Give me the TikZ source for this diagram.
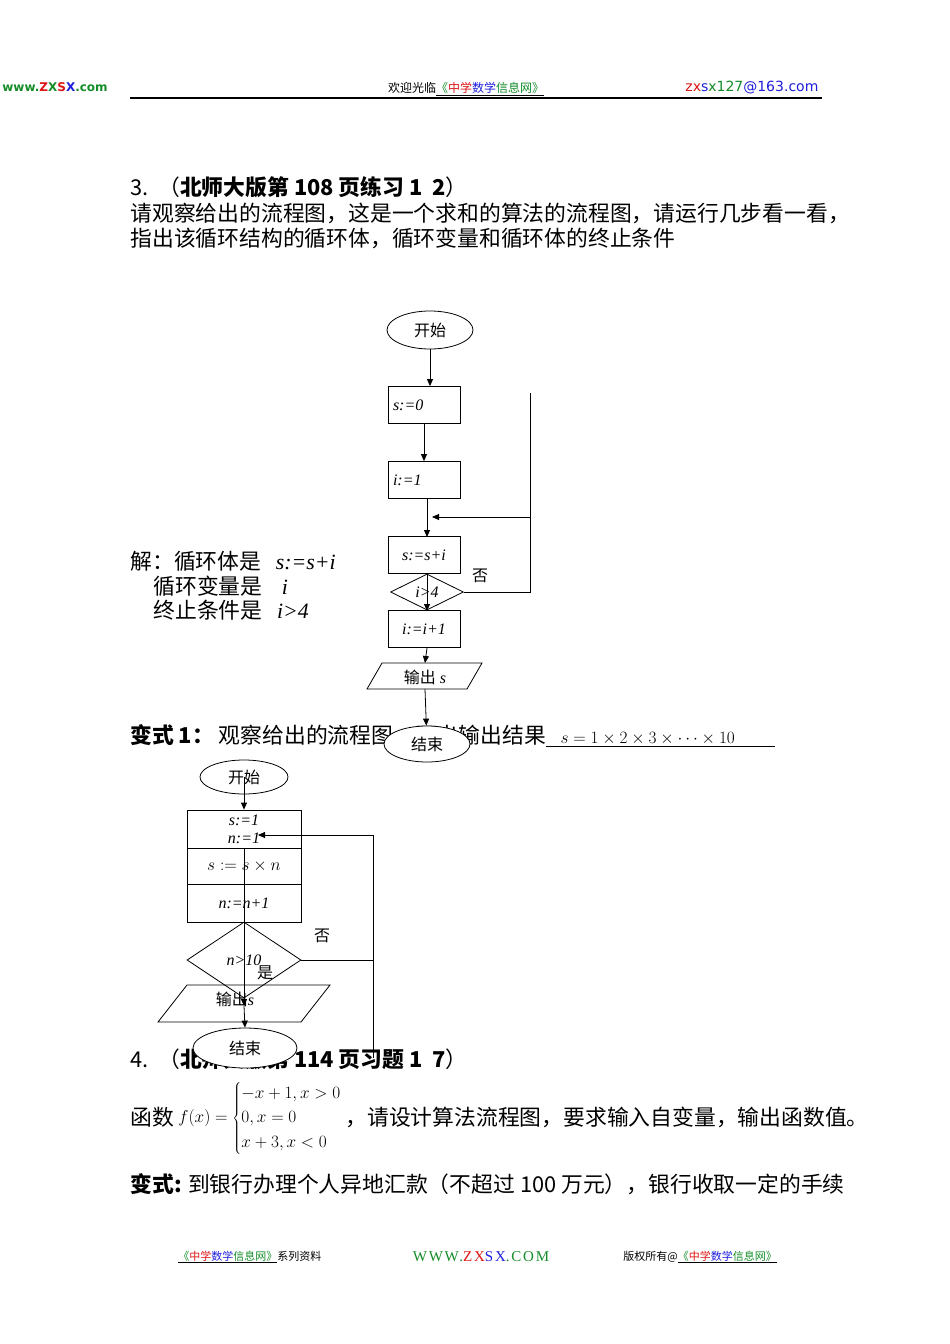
\documentclass[tikz,border=0pt]{standalone}
\usepackage{fontspec}
\setmainfont{Liberation Serif}
\newfontfamily\cjk{Noto Sans CJK SC}
\usetikzlibrary{shapes.geometric,arrows.meta}
\definecolor{zgreen}{RGB}{20,140,40}
\definecolor{zred}{RGB}{220,20,20}
\definecolor{zblue}{RGB}{30,30,220}
\tikzset{
  body/.style={anchor=west,inner sep=0pt,font=\cjk\fontsize{21.8}{22}\selectfont},
  fc/.style={font=\fontsize{16}{16}\selectfont},
  proc/.style={draw,fill=white,minimum width=72pt,minimum height=37pt,inner sep=0pt,fc},
  term/.style={draw,fill=white,ellipse,inner sep=0pt,fc},
  dec/.style={draw,fill=white,diamond,aspect=2,inner sep=0pt,fc},
  arr/.style={-{Triangle[length=7pt,width=6pt]}},
}
\begin{document}
\begin{tikzpicture}[x=1pt,y=-1pt,line width=0.8pt]
\useasboundingbox (0,0) rectangle (950,1344);
% header
\node[anchor=west,inner sep=0pt,font=\fontspec{DejaVu Sans}\bfseries\fontsize{12}{12}\selectfont] (logo) at (2,87) {\textcolor{zgreen}{www.}\textcolor{zred}{Z}\textcolor{zgreen}{X}\textcolor{zred}{S}\textcolor{zblue}{X}\textcolor{zgreen}{.com}};
\node[anchor=center,inner sep=0pt,font=\cjk\fontsize{12}{12}\selectfont] (welcome) at (466,89) {欢迎光临\underline{\textcolor{zgreen}{《}\textcolor{zred}{中学}\textcolor{zblue}{数学}\textcolor{zgreen}{信息网》}}};
\node[anchor=west,inner sep=0pt,font=\fontspec{DejaVu Sans}\fontsize{14}{14}\selectfont] (mail) at (685,88) {\textcolor{zred}{zx}\textcolor{zblue}{s}\textcolor{zgreen}{x127}\textcolor{zblue}{@163.com}};
\draw[line width=1.2pt] (130,98) coordinate (hl) -- (822,98) coordinate (hr);
% text
\node[body] (t3) at (130,187) {3.\ \ （\textbf{北师大版第 108 页练习 1\ \ 2}）};
\node[body] (t3b) at (130,213) {请观察给出的流程图，这是一个求和的算法的流程图，请运行几步看一看，};
\node[body] (t3c) at (130,238) {指出该循环结构的循环体，循环变量和循环体的终止条件};
\node[body] (s1) at (130,561) {解：循环体是\ \ \ \textit{\rmfamily s:=s+i}};
\node[body] (s2) at (153,586) {循环变量是\ \ \ \ \textit{\rmfamily i}};
\node[body] (s3) at (153,610) {终止条件是\ \ \ \textit{\rmfamily i>4}};
\node[body] (v1) at (130,736) {\textbf{变式 1：}\ 观察给出的流程图，写出输出结果\underline{\ \ \ \fontsize{16}{16}\rmfamily$s=1\times2\times3\times\cdots\times10$\ \ \ \ \ \ \ \ \ \ }};
\node[body] (t4) at (130,1059) {4.\ \ （\textbf{北师大版第 114 页习题 1\ \ 7}）};
\node[body] (hs) at (130,1117) {函数};
\node[anchor=west,inner sep=0pt,font=\fontsize{16}{16}\selectfont] (fx) at (178,1118) {$f(x)=\renewcommand{\arraystretch}{1.55}\left\{\begin{array}{@{}l@{}}-x+1,x>0\\0,x=0\\x+3,x<0\end{array}\right.$};
\node[body] (t4b) at (345,1117) {，请设计算法流程图，要求输入自变量，输出函数值。};
\node[body] (t5) at (130,1184) {\textbf{变式:} 到银行办理个人异地汇款（不超过 100 万元），银行收取一定的手续};
% footer
\node[anchor=west,inner sep=0pt,font=\cjk\fontsize{11}{11}\selectfont] (f1) at (178,1257) {\underline{\textcolor{zgreen}{《}\textcolor{zred}{中学}\textcolor{zblue}{数学}\textcolor{zgreen}{信息网》}}系列资料};
\node[inner sep=0pt,font=\fontsize{15}{15}\selectfont] (f2) at (481,1257) {\addfontfeature{LetterSpace=12}\textcolor{zgreen}{WWW.}\textcolor{zred}{ZX}\textcolor{zblue}{SX}\textcolor{zgreen}{.COM}};
\node[anchor=west,inner sep=0pt,font=\cjk\fontsize{11}{11}\selectfont] (f3) at (623,1257) {版权所有@\underline{\textcolor{zgreen}{《}\textcolor{zred}{中学}\textcolor{zblue}{数学}\textcolor{zgreen}{信息网》}}};
% flowchart 1
\node[term,minimum width=86pt,minimum height=38pt] (st) at (430,330) {{\cjk 开始}};
\node[proc,text width=62pt,align=left] (a1) at (424,405) {\textit{s:=0}};
\node[proc,text width=62pt,align=left] (a2) at (424,480) {\textit{i:=1}};
\node[proc] (a3) at (424,555) {\textit{s:=s+i}};
\node[dec,minimum width=73pt,minimum height=36pt] (d1) at (427,592) {\textit{i>4}};
\node[proc] (a4) at (424,629) {\textit{i:=i+1}};
\draw[fill=white] (382,663) -- (482,663) -- (467,689) -- (367,689) -- cycle;
\coordinate (o1t) at (425,663); \coordinate (o1b) at (425,689);
\node[fc] (o1) at (425,677) {{\cjk 输出} \textit{s}};
\node[term,minimum width=86pt,minimum height=36pt] (en) at (427,744) {{\cjk 结束}};
\draw[arr] (st) -- (st|-a1.north);
\draw[arr] (a1) -- (a2);
\draw[arr] (a2.south-|427,0) -- (427,537);
\draw[arr] (427,573) -- (427,611);
\draw[arr] (427,648) -- (o1t);
\draw[arr] (o1b) -- (en);
\coordinate (rt) at (530,393);
\draw (rt) -- (rt|-d1.east) -- (d1.east);
\draw[arr] (530,517) -- (432,517);
\node[fc] (no1) at (480,576) {{\cjk 否}};
% flowchart 2
\node[term,minimum width=88pt,minimum height=34pt] (st2) at (244,777) {{\cjk 开始}};
\node[proc,minimum width=114pt,minimum height=38pt,align=center,font=\fontsize{16}{18}\selectfont] (b1) at (244,829) {\textit{s:=1}\\\textit{n:=1}};
\node[proc,minimum width=114pt,minimum height=36pt] (b2) at (244,866) {$s:=s\times n$};
\node[proc,minimum width=114pt,minimum height=38pt] (b3) at (244,903) {\textit{n:=n+1}};
\draw[fill=white] (187,985) -- (330,985) -- (301,1022) -- (158,1022) -- cycle;
\node[dec,minimum width=114pt,minimum height=76pt,fill=none] (d2) at (244,960) {\textit{n>10}};
\node[fc] (o2) at (235,999) {{\cjk 输出}\textit{s}};
\node[term,minimum width=104pt,minimum height=40pt] (en2) at (245,1048) {{\cjk 结束}};
\draw[arr] (st2.center) -- (b1.north);
\draw (244,848) -- (244,884);
\draw[arr] (244,884) -- (244,1006);
\draw[arr] (244,1006) -- (en2.north);
\draw (d2.east) -- (373,960);
\draw (373,1058) coordinate (lb) -- (373,835) coordinate (lt);
\draw[arr] (lt) -- (258,835);
\node[fc] (no2) at (322,936) {{\cjk 否}};
\node[fc] (yes2) at (265,973) {{\cjk 是}};
\end{tikzpicture}
\end{document}
